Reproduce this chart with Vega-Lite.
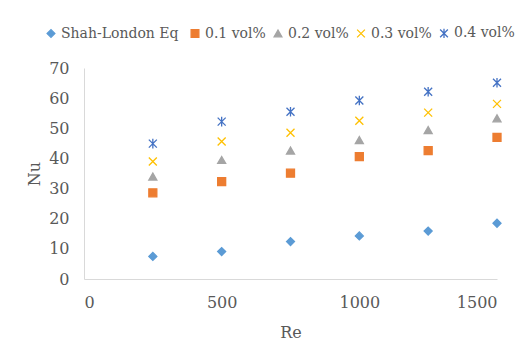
{
  "$schema": "https://vega.github.io/schema/vega-lite/v6.json",
  "width": 413,
  "height": 211,
  "autosize": "none",
  "padding": {"left": 84, "top": 68, "right": 24, "bottom": 83},
  "background": "white",
  "config": {
    "view": {"stroke": null},
    "font": "DejaVu Serif"
  },
  "data": {
    "values": [
      {"Re": 250, "Nu": 7.5, "series": "Shah-London  Eq"},
      {"Re": 500, "Nu": 9.1, "series": "Shah-London  Eq"},
      {"Re": 750, "Nu": 12.4, "series": "Shah-London  Eq"},
      {"Re": 1000, "Nu": 14.3, "series": "Shah-London  Eq"},
      {"Re": 1250, "Nu": 15.9, "series": "Shah-London  Eq"},
      {"Re": 1500, "Nu": 18.5, "series": "Shah-London  Eq"},
      {"Re": 250, "Nu": 28.6, "series": "0.1 vol%"},
      {"Re": 500, "Nu": 32.3, "series": "0.1 vol%"},
      {"Re": 750, "Nu": 35.1, "series": "0.1 vol%"},
      {"Re": 1000, "Nu": 40.6, "series": "0.1 vol%"},
      {"Re": 1250, "Nu": 42.6, "series": "0.1 vol%"},
      {"Re": 1500, "Nu": 47.0, "series": "0.1 vol%"},
      {"Re": 250, "Nu": 34.0, "series": "0.2 vol%"},
      {"Re": 500, "Nu": 39.5, "series": "0.2 vol%"},
      {"Re": 750, "Nu": 42.6, "series": "0.2 vol%"},
      {"Re": 1000, "Nu": 46.1, "series": "0.2 vol%"},
      {"Re": 1250, "Nu": 49.4, "series": "0.2 vol%"},
      {"Re": 1500, "Nu": 53.3, "series": "0.2 vol%"},
      {"Re": 250, "Nu": 39.0, "series": "0.3 vol%"},
      {"Re": 500, "Nu": 45.6, "series": "0.3 vol%"},
      {"Re": 750, "Nu": 48.5, "series": "0.3 vol%"},
      {"Re": 1000, "Nu": 52.5, "series": "0.3 vol%"},
      {"Re": 1250, "Nu": 55.2, "series": "0.3 vol%"},
      {"Re": 1500, "Nu": 58.1, "series": "0.3 vol%"},
      {"Re": 250, "Nu": 44.9, "series": "0.4 vol%"},
      {"Re": 500, "Nu": 52.2, "series": "0.4 vol%"},
      {"Re": 750, "Nu": 55.5, "series": "0.4 vol%"},
      {"Re": 1000, "Nu": 59.2, "series": "0.4 vol%"},
      {"Re": 1250, "Nu": 62.1, "series": "0.4 vol%"},
      {"Re": 1500, "Nu": 65.1, "series": "0.4 vol%"}
    ]
  },
  "mark": {"type": "point", "filled": true, "size": 64, "strokeWidth": 1.3, "opacity": 1},
  "encoding": {
    "x": {
      "field": "Re", "type": "quantitative",
      "scale": {"domain": [0, 1500]},
      "axis": {
        "title": "Re", "values": [0, 500, 1000, 1500], "format": "d",
        "ticks": false, "grid": false,
        "domainColor": "#D9D9D9", "domainWidth": 1,
        "labelFont": "DejaVu Serif", "labelFontSize": 16, "labelColor": "#595959",
        "labelPadding": 15,
        "titleFont": "DejaVu Serif", "titleFontSize": 16, "titleFontWeight": "normal",
        "titleColor": "#595959", "titlePadding": 14
      }
    },
    "y": {
      "field": "Nu", "type": "quantitative",
      "scale": {"domain": [0, 70]},
      "axis": {
        "title": "Nu", "values": [0, 10, 20, 30, 40, 50, 60, 70], "format": "d",
        "ticks": false, "grid": false,
        "domainColor": "#D9D9D9", "domainWidth": 1,
        "labelFont": "DejaVu Serif", "labelFontSize": 16, "labelColor": "#595959",
        "labelPadding": 15,
        "titleFont": "DejaVu Serif", "titleFontSize": 16, "titleFontWeight": "normal",
        "titleColor": "#595959", "titlePadding": 6
      }
    },
    "color": {
      "field": "series", "type": "nominal",
      "scale": {
        "domain": ["Shah-London  Eq", "0.1 vol%", "0.2 vol%", "0.3 vol%", "0.4 vol%"],
        "range": ["#5B9BD5", "#ED7D31", "#A5A5A5", "#FFC000", "#4472C4"]
      },
      "legend": {
        "title": null, "orient": "none", "direction": "horizontal", "columns": 5,
        "legendX": -40, "legendY": -42,
        "labelFont": "DejaVu Serif", "labelFontSize": 14, "labelColor": "#595959",
        "symbolSize": 60, "labelOffset": 3, "columnPadding": 5, "symbolStrokeWidth": 1.3
      }
    },
    "stroke": {
      "field": "series", "type": "nominal",
      "scale": {
        "domain": ["Shah-London  Eq", "0.1 vol%", "0.2 vol%", "0.3 vol%", "0.4 vol%"],
        "range": ["#5B9BD5", "#ED7D31", "#A5A5A5", "#FFC000", "#4472C4"]
      },
      "legend": {
        "title": null, "orient": "none", "direction": "horizontal", "columns": 5,
        "legendX": -40, "legendY": -42,
        "labelFont": "DejaVu Serif", "labelFontSize": 14, "labelColor": "#595959",
        "symbolSize": 60, "labelOffset": 3, "columnPadding": 5, "symbolStrokeWidth": 1.3
      }
    },
    "shape": {
      "field": "series", "type": "nominal",
      "scale": {
        "domain": ["Shah-London  Eq", "0.1 vol%", "0.2 vol%", "0.3 vol%", "0.4 vol%"],
        "range": ["diamond", "square", "triangle-up", "M-1,-1L1,1M-1,1L1,-1", "M-1,-1L1,1M-1,1L1,-1M0,-1.2L0,1.2"]
      },
      "legend": {
        "title": null, "orient": "none", "direction": "horizontal", "columns": 5,
        "legendX": -40, "legendY": -42,
        "labelFont": "DejaVu Serif", "labelFontSize": 14, "labelColor": "#595959",
        "symbolSize": 60, "labelOffset": 3, "columnPadding": 5, "symbolStrokeWidth": 1.3
      }
    }
  }
}
